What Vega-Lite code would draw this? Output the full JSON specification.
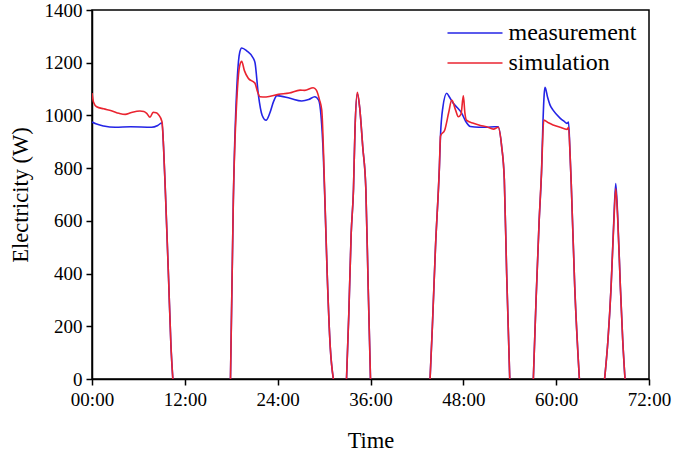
{
  "$schema": "https://vega.github.io/schema/vega-lite/v6.json",
  "width": 557,
  "height": 369,
  "autosize": "none",
  "padding": {"left": 92, "top": 10, "right": 24, "bottom": 77},
  "background": "white",
  "config": {
    "font": "Liberation Serif",
    "view": {"stroke": "black", "strokeWidth": 1.5},
    "axis": {
      "domainColor": "black", "domainWidth": 1.5, "tickColor": "black", "tickWidth": 1.5,
      "tickSize": 6, "labelColor": "black", "titleColor": "black", "grid": false,
      "labelFont": "Liberation Serif", "titleFont": "Liberation Serif",
      "labelFontSize": 19, "titleFontSize": 22.5, "titleFontWeight": "normal", "zindex": 1
    },
    "legend": {"labelFont": "Liberation Serif", "labelFontSize": 24, "labelColor": "black"}
  },
  "data": {"values": [
    {"t": 0, "W": 975, "s": "measurement"},
    {"t": 0.5, "W": 968, "s": "measurement"},
    {"t": 1.5, "W": 960, "s": "measurement"},
    {"t": 3, "W": 955, "s": "measurement"},
    {"t": 5, "W": 957, "s": "measurement"},
    {"t": 7.7, "W": 955, "s": "measurement"},
    {"t": 8.5, "W": 962, "s": "measurement"},
    {"t": 9.05, "W": 972, "s": "measurement"},
    {"t": 9.25, "W": 880, "s": "measurement"},
    {"t": 9.5, "W": 700, "s": "measurement"},
    {"t": 9.9, "W": 380, "s": "measurement"},
    {"t": 10.2, "W": 130, "s": "measurement"},
    {"t": 10.45, "W": 0, "s": "measurement"},
    {"t": 14, "W": null, "s": "measurement"},
    {"t": 17.9, "W": 0, "s": "measurement"},
    {"t": 18.27, "W": 680, "s": "measurement"},
    {"t": 18.8, "W": 1150, "s": "measurement"},
    {"t": 19.1, "W": 1240, "s": "measurement"},
    {"t": 19.35, "W": 1256, "s": "measurement"},
    {"t": 20.0, "W": 1245, "s": "measurement"},
    {"t": 20.85, "W": 1217, "s": "measurement"},
    {"t": 21.07, "W": 1200, "s": "measurement"},
    {"t": 21.5, "W": 1080, "s": "measurement"},
    {"t": 22.0, "W": 1000, "s": "measurement"},
    {"t": 22.5, "W": 982, "s": "measurement"},
    {"t": 23.0, "W": 1010, "s": "measurement"},
    {"t": 23.5, "W": 1055, "s": "measurement"},
    {"t": 23.9, "W": 1075, "s": "measurement"},
    {"t": 25.6, "W": 1065, "s": "measurement"},
    {"t": 27.1, "W": 1055, "s": "measurement"},
    {"t": 28.0, "W": 1060, "s": "measurement"},
    {"t": 28.8, "W": 1071, "s": "measurement"},
    {"t": 29.3, "W": 1058, "s": "measurement"},
    {"t": 29.6, "W": 1000, "s": "measurement"},
    {"t": 29.9, "W": 850, "s": "measurement"},
    {"t": 30.1, "W": 680, "s": "measurement"},
    {"t": 30.4, "W": 400, "s": "measurement"},
    {"t": 30.8, "W": 120, "s": "measurement"},
    {"t": 31.2, "W": 0, "s": "measurement"},
    {"t": 32.0, "W": null, "s": "measurement"},
    {"t": 32.9, "W": 0, "s": "measurement"},
    {"t": 33.2, "W": 250, "s": "measurement"},
    {"t": 33.5, "W": 550, "s": "measurement"},
    {"t": 33.8, "W": 720, "s": "measurement"},
    {"t": 34.0, "W": 950, "s": "measurement"},
    {"t": 34.3, "W": 1082, "s": "measurement"},
    {"t": 34.6, "W": 1030, "s": "measurement"},
    {"t": 35.0, "W": 880, "s": "measurement"},
    {"t": 35.4, "W": 720, "s": "measurement"},
    {"t": 35.7, "W": 350, "s": "measurement"},
    {"t": 36.0, "W": 0, "s": "measurement"},
    {"t": 40.0, "W": null, "s": "measurement"},
    {"t": 43.7, "W": 0, "s": "measurement"},
    {"t": 44.0, "W": 200, "s": "measurement"},
    {"t": 44.4, "W": 500, "s": "measurement"},
    {"t": 44.9, "W": 800, "s": "measurement"},
    {"t": 45.05, "W": 925, "s": "measurement"},
    {"t": 45.35, "W": 1030, "s": "measurement"},
    {"t": 45.85, "W": 1084, "s": "measurement"},
    {"t": 46.2, "W": 1070, "s": "measurement"},
    {"t": 46.7, "W": 1046, "s": "measurement"},
    {"t": 47.2, "W": 1030, "s": "measurement"},
    {"t": 47.8, "W": 1008, "s": "measurement"},
    {"t": 48.3, "W": 978, "s": "measurement"},
    {"t": 48.9, "W": 958, "s": "measurement"},
    {"t": 50.0, "W": 955, "s": "measurement"},
    {"t": 51.0, "W": 955, "s": "measurement"},
    {"t": 52.0, "W": 957, "s": "measurement"},
    {"t": 52.5, "W": 957, "s": "measurement"},
    {"t": 52.96, "W": 881, "s": "measurement"},
    {"t": 53.3, "W": 755, "s": "measurement"},
    {"t": 53.6, "W": 400, "s": "measurement"},
    {"t": 54.0, "W": 0, "s": "measurement"},
    {"t": 55.5, "W": null, "s": "measurement"},
    {"t": 57.05, "W": 0, "s": "measurement"},
    {"t": 57.4, "W": 300, "s": "measurement"},
    {"t": 57.8, "W": 600, "s": "measurement"},
    {"t": 58.1, "W": 780, "s": "measurement"},
    {"t": 58.3, "W": 980, "s": "measurement"},
    {"t": 58.45, "W": 1080, "s": "measurement"},
    {"t": 58.56, "W": 1107, "s": "measurement"},
    {"t": 58.9, "W": 1068, "s": "measurement"},
    {"t": 59.2, "W": 1040, "s": "measurement"},
    {"t": 59.6, "W": 1020, "s": "measurement"},
    {"t": 60.5, "W": 990, "s": "measurement"},
    {"t": 61.0, "W": 978, "s": "measurement"},
    {"t": 61.4, "W": 970, "s": "measurement"},
    {"t": 61.6, "W": 975, "s": "measurement"},
    {"t": 61.8, "W": 850, "s": "measurement"},
    {"t": 61.95, "W": 740, "s": "measurement"},
    {"t": 62.4, "W": 350, "s": "measurement"},
    {"t": 63.0, "W": 0, "s": "measurement"},
    {"t": 64.5, "W": null, "s": "measurement"},
    {"t": 66.26, "W": 0, "s": "measurement"},
    {"t": 66.7, "W": 150, "s": "measurement"},
    {"t": 67.1, "W": 350, "s": "measurement"},
    {"t": 67.45, "W": 600, "s": "measurement"},
    {"t": 67.7, "W": 742, "s": "measurement"},
    {"t": 67.95, "W": 620, "s": "measurement"},
    {"t": 68.3, "W": 350, "s": "measurement"},
    {"t": 68.6, "W": 150, "s": "measurement"},
    {"t": 68.9, "W": 0, "s": "measurement"},

    {"t": 0, "W": 1085, "s": "simulation"},
    {"t": 0.2, "W": 1050, "s": "simulation"},
    {"t": 0.6, "W": 1033, "s": "simulation"},
    {"t": 1.5, "W": 1025, "s": "simulation"},
    {"t": 2.5, "W": 1018, "s": "simulation"},
    {"t": 3.5, "W": 1008, "s": "simulation"},
    {"t": 4.3, "W": 1004, "s": "simulation"},
    {"t": 5.0, "W": 1010, "s": "simulation"},
    {"t": 6.2, "W": 1017, "s": "simulation"},
    {"t": 6.7, "W": 1015, "s": "simulation"},
    {"t": 7.07, "W": 1008, "s": "simulation"},
    {"t": 7.5, "W": 993, "s": "simulation"},
    {"t": 7.9, "W": 1012, "s": "simulation"},
    {"t": 8.3, "W": 1010, "s": "simulation"},
    {"t": 8.6, "W": 1003, "s": "simulation"},
    {"t": 9.05, "W": 976, "s": "simulation"},
    {"t": 9.25, "W": 880, "s": "simulation"},
    {"t": 9.5, "W": 700, "s": "simulation"},
    {"t": 9.9, "W": 380, "s": "simulation"},
    {"t": 10.2, "W": 130, "s": "simulation"},
    {"t": 10.45, "W": 0, "s": "simulation"},
    {"t": 14, "W": null, "s": "simulation"},
    {"t": 17.9, "W": 0, "s": "simulation"},
    {"t": 18.27, "W": 680, "s": "simulation"},
    {"t": 18.8, "W": 1100, "s": "simulation"},
    {"t": 19.1, "W": 1190, "s": "simulation"},
    {"t": 19.35, "W": 1205, "s": "simulation"},
    {"t": 19.7, "W": 1170, "s": "simulation"},
    {"t": 20.2, "W": 1141, "s": "simulation"},
    {"t": 21.07, "W": 1122, "s": "simulation"},
    {"t": 21.4, "W": 1090, "s": "simulation"},
    {"t": 21.7, "W": 1071, "s": "simulation"},
    {"t": 22.5, "W": 1070, "s": "simulation"},
    {"t": 24.1, "W": 1080, "s": "simulation"},
    {"t": 25.5, "W": 1085, "s": "simulation"},
    {"t": 26.9, "W": 1096, "s": "simulation"},
    {"t": 27.5, "W": 1095, "s": "simulation"},
    {"t": 28.6, "W": 1105, "s": "simulation"},
    {"t": 29.0, "W": 1096, "s": "simulation"},
    {"t": 29.4, "W": 1060, "s": "simulation"},
    {"t": 29.7, "W": 1020, "s": "simulation"},
    {"t": 30.1, "W": 690, "s": "simulation"},
    {"t": 30.4, "W": 400, "s": "simulation"},
    {"t": 30.8, "W": 120, "s": "simulation"},
    {"t": 31.2, "W": 0, "s": "simulation"},
    {"t": 32.0, "W": null, "s": "simulation"},
    {"t": 32.9, "W": 0, "s": "simulation"},
    {"t": 33.2, "W": 250, "s": "simulation"},
    {"t": 33.5, "W": 550, "s": "simulation"},
    {"t": 33.8, "W": 720, "s": "simulation"},
    {"t": 34.0, "W": 950, "s": "simulation"},
    {"t": 34.3, "W": 1088, "s": "simulation"},
    {"t": 34.6, "W": 1030, "s": "simulation"},
    {"t": 35.0, "W": 880, "s": "simulation"},
    {"t": 35.4, "W": 720, "s": "simulation"},
    {"t": 35.7, "W": 350, "s": "simulation"},
    {"t": 36.0, "W": 0, "s": "simulation"},
    {"t": 40.0, "W": null, "s": "simulation"},
    {"t": 43.7, "W": 0, "s": "simulation"},
    {"t": 44.0, "W": 200, "s": "simulation"},
    {"t": 44.4, "W": 500, "s": "simulation"},
    {"t": 44.9, "W": 800, "s": "simulation"},
    {"t": 45.05, "W": 922, "s": "simulation"},
    {"t": 45.6, "W": 945, "s": "simulation"},
    {"t": 46.1, "W": 1010, "s": "simulation"},
    {"t": 46.5, "W": 1058, "s": "simulation"},
    {"t": 47.0, "W": 1020, "s": "simulation"},
    {"t": 47.35, "W": 995, "s": "simulation"},
    {"t": 47.7, "W": 1005, "s": "simulation"},
    {"t": 48.0, "W": 1074, "s": "simulation"},
    {"t": 48.2, "W": 1010, "s": "simulation"},
    {"t": 48.4, "W": 982, "s": "simulation"},
    {"t": 49.3, "W": 970, "s": "simulation"},
    {"t": 50.2, "W": 962, "s": "simulation"},
    {"t": 51.0, "W": 957, "s": "simulation"},
    {"t": 51.9, "W": 948, "s": "simulation"},
    {"t": 52.5, "W": 955, "s": "simulation"},
    {"t": 52.96, "W": 881, "s": "simulation"},
    {"t": 53.3, "W": 755, "s": "simulation"},
    {"t": 53.6, "W": 400, "s": "simulation"},
    {"t": 54.0, "W": 0, "s": "simulation"},
    {"t": 55.5, "W": null, "s": "simulation"},
    {"t": 57.05, "W": 0, "s": "simulation"},
    {"t": 57.4, "W": 300, "s": "simulation"},
    {"t": 57.8, "W": 600, "s": "simulation"},
    {"t": 58.1, "W": 780, "s": "simulation"},
    {"t": 58.4, "W": 982, "s": "simulation"},
    {"t": 59.0, "W": 972, "s": "simulation"},
    {"t": 59.6, "W": 964, "s": "simulation"},
    {"t": 60.5, "W": 955, "s": "simulation"},
    {"t": 61.4, "W": 947, "s": "simulation"},
    {"t": 61.6, "W": 955, "s": "simulation"},
    {"t": 61.8, "W": 850, "s": "simulation"},
    {"t": 61.95, "W": 740, "s": "simulation"},
    {"t": 62.4, "W": 350, "s": "simulation"},
    {"t": 63.0, "W": 0, "s": "simulation"},
    {"t": 64.5, "W": null, "s": "simulation"},
    {"t": 66.26, "W": 0, "s": "simulation"},
    {"t": 66.7, "W": 150, "s": "simulation"},
    {"t": 67.1, "W": 350, "s": "simulation"},
    {"t": 67.45, "W": 590, "s": "simulation"},
    {"t": 67.7, "W": 722, "s": "simulation"},
    {"t": 67.95, "W": 610, "s": "simulation"},
    {"t": 68.3, "W": 350, "s": "simulation"},
    {"t": 68.6, "W": 150, "s": "simulation"},
    {"t": 68.9, "W": 0, "s": "simulation"}
  ]},
  "mark": {"type": "line", "interpolate": "monotone", "strokeWidth": 1.6, "clip": true, "invalid": "break-paths-show-domains"},
  "encoding": {
    "x": {
      "field": "t", "type": "quantitative",
      "scale": {"domain": [0, 72], "nice": false, "zero": false},
      "axis": {
        "values": [0, 12, 24, 36, 48, 60, 72],
        "labelExpr": "(datum.value < 10 ? '0' : '') + datum.value + ':00'",
        "title": "Time", "labelPadding": 5, "titlePadding": 20,
        "labelFlush": false
      }
    },
    "y": {
      "field": "W", "type": "quantitative",
      "scale": {"domain": [0, 1400], "nice": false},
      "axis": {
        "values": [0, 200, 400, 600, 800, 1000, 1200, 1400],
        "format": "d",
        "title": "Electricity (W)", "labelPadding": 4, "titlePadding": 12,
        "labelFlush": false
      }
    },
    "color": {
      "field": "s", "type": "nominal",
      "scale": {"domain": ["measurement", "simulation"], "range": ["#2424e6", "#ea2430"]},
      "legend": {
        "title": null, "orient": "none", "legendX": 371, "legendY": 11,
        "symbolType": "M-5.5,0L5.5,0", "symbolSize": 100, "symbolStrokeWidth": 1.6,
        "symbolFillColor": "transparent",
        "rowPadding": 6, "labelOffset": 21.5, "padding": 0
      }
    }
  }
}
